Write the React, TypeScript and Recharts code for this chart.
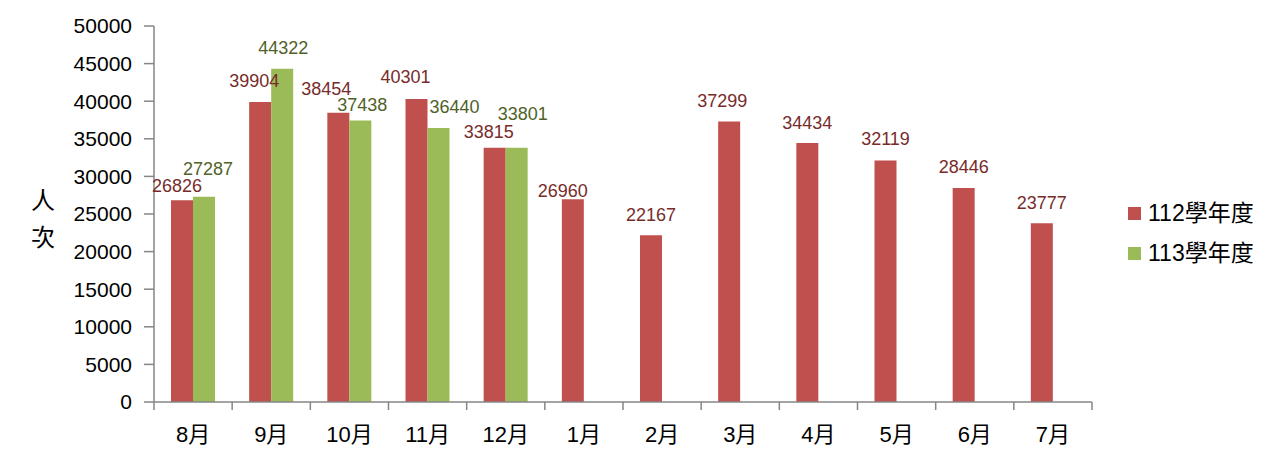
import React from 'react';
import { BarChart, Bar, XAxis, YAxis, LabelList, Label } from 'recharts';

const months = ['8月', '9月', '10月', '11月', '12月', '1月', '2月', '3月', '4月', '5月', '6月', '7月'];
const year112 = [26826, 39904, 38454, 40301, 33815, 26960, 22167, 37299, 34434, 32119, 28446, 23777];
const year113: (number | null)[] = [27287, 44322, 37438, 36440, 33801, null, null, null, null, null, null, null];
const yTicks = [0, 5000, 10000, 15000, 20000, 25000, 30000, 35000, 40000, 45000, 50000];
const seriesNames = ['112學年度', '113學年度'];

// label nudges (px) so the data labels sit where they sit in the original
const shift112 = [[-5, 15], [-6, 21], [-12, 24], [-11, 22], [-6, 16], [-10, 9], [0, 21], [-7, 21], [0, 21], [0, 22], [0, 22], [0, 21]];
const shift113 = [[4, 28], [1, 21], [2, 16], [16, 21], [6, 34]];

const RED = '#C0504D';
const GREEN = '#9BBB59';

const data = months.map((m, i) => ({ month: m, a: year112[i], b: year113[i] }));

const W = 1282;
const H = 464;
const LEFT = 154;
const RIGHT = 190;
const X_HEIGHT = 62;
const AXIS_Y = H - X_HEIGHT;
const FONT = '"Liberation Sans", "Noto Sans CJK TC", Arial, sans-serif';
const AXIS = '#868686';
const LABEL_SIZE = 18;

const band = (W - LEFT - RIGHT) / months.length;

const MonthTick = (props: any) => {
  const { x, payload, index } = props;
  return (
    <g>
      <line x1={x - band / 2} y1={AXIS_Y} x2={x - band / 2} y2={AXIS_Y + 8} stroke={AXIS} strokeWidth={1.5} />
      {index === months.length - 1 && (
        <line x1={x + band / 2} y1={AXIS_Y} x2={x + band / 2} y2={AXIS_Y + 8} stroke={AXIS} strokeWidth={1.5} />
      )}
      <text x={x} y={AXIS_Y + 40} textAnchor="middle" fontSize={22} fill="#000" fontFamily={FONT}>
        {payload.value}
      </text>
    </g>
  );
};

const makeLabel = (shifts: number[][], color: string) => (props: any) => {
  const { x, y, width, value, index } = props;
  if (value == null) return null;
  const [dx, rise] = shifts[index] || [0, 21];
  return (
    <text
      x={x + width / 2 + dx}
      y={y - rise + LABEL_SIZE * 0.36}
      textAnchor="middle"
      fontSize={LABEL_SIZE}
      fill={color}
      fontFamily={FONT}
    >
      {value}
    </text>
  );
};

export default function App() {
  return (
    <div style={{ position: 'fixed', left: 0, top: 0, width: W, height: H, background: '#fff', fontFamily: FONT }}>
      <BarChart
        width={W}
        height={H}
        data={data}
        margin={{ top: 26, right: RIGHT, left: 0, bottom: 0 }}
        barGap={0}
        barSize={22}
      >
        <XAxis
          dataKey="month"
          height={X_HEIGHT}
          axisLine={{ stroke: AXIS, strokeWidth: 1.5 }}
          tickLine={false}
          tick={<MonthTick />}
          interval={0}
        />
        <YAxis
          width={LEFT}
          domain={[0, 50000]}
          ticks={yTicks}
          interval={0}
          axisLine={{ stroke: AXIS, strokeWidth: 1.5 }}
          tickLine={{ stroke: AXIS, strokeWidth: 1.5 }}
          tickSize={10}
          tickMargin={12}
          tick={{ fill: '#000', fontSize: 21, fontFamily: FONT }}
        >
          <Label
            content={() => (
              <text fill="#000" fontSize={24} fontFamily={FONT} textAnchor="middle">
                <tspan x={43} y={209}>人</tspan>
                <tspan x={43} y={246}>次</tspan>
              </text>
            )}
          />
        </YAxis>
        <Bar dataKey="a" name={seriesNames[0]} fill={RED} isAnimationActive={false}>
          <LabelList dataKey="a" content={makeLabel(shift112, '#772C2A')} />
        </Bar>
        <Bar dataKey="b" name={seriesNames[1]} fill={GREEN} isAnimationActive={false}>
          <LabelList dataKey="b" content={makeLabel(shift113, '#4F6228')} />
        </Bar>
      </BarChart>
      <div style={{ position: 'absolute', left: 1128, top: 193, fontSize: 23, color: '#000', lineHeight: '40px' }}>
        {seriesNames.map((n, i) => (
          <div key={n} style={{ display: 'flex', alignItems: 'center' }}>
            <span style={{ display: 'inline-block', width: 13, height: 13, background: i === 0 ? RED : GREEN, marginRight: 7 }} />
            {n}
          </div>
        ))}
      </div>
    </div>
  );
}
